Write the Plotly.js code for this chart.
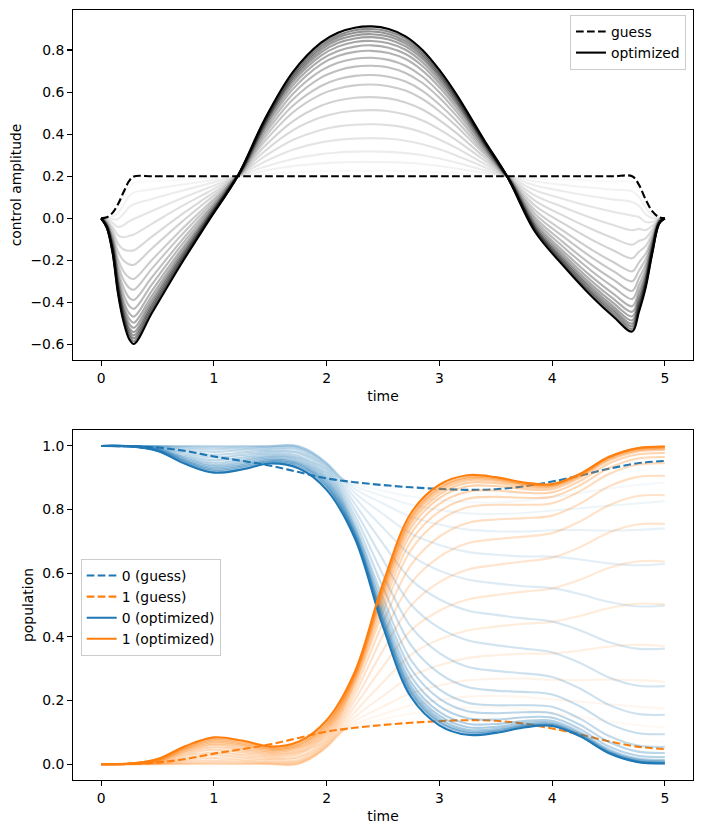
<!DOCTYPE html>
<html><head><meta charset="utf-8">
<script src="https://cdn.plot.ly/plotly-3.0.1.min.js"></script>
<style>html,body{margin:0;padding:0;background:#fff}#chart{width:702px;height:833px}</style>
</head><body><div id="chart"></div>
<script>
// ---------- top panel: control amplitude ----------
const tCtrl = [0, 0.05, 0.1, 0.15, 0.2, 0.25, 0.29, 0.45, 0.7, 0.95, 1.21, 1.45, 1.7, 1.95, 2.1, 2.25, 2.4, 2.55, 2.7, 2.85, 3.0, 3.15, 3.4, 3.6, 3.85, 4.1, 4.35, 4.55, 4.71, 4.77, 4.83, 4.89, 4.95, 5.0];
const ctrlGuess = [0, 0.005, 0.026, 0.068, 0.126, 0.179, 0.199, 0.2, 0.2, 0.2, 0.2, 0.2, 0.2, 0.2, 0.2, 0.2, 0.2, 0.2, 0.2, 0.2, 0.2, 0.2, 0.2, 0.2, 0.2, 0.2, 0.2, 0.2, 0.2, 0.16, 0.09, 0.033, 0.005, 0];
const ctrl1 = [0, 0.003, 0.019, 0.052, 0.103, 0.151, 0.17, 0.176, 0.184, 0.192, 0.2, 0.21, 0.218, 0.224, 0.225, 0.226, 0.226, 0.226, 0.225, 0.222, 0.219, 0.214, 0.206, 0.2, 0.19, 0.184, 0.179, 0.175, 0.173, 0.138, 0.074, 0.026, 0.004, 0];
const ctrl2 = [0, 0, 0.008, 0.027, 0.066, 0.107, 0.123, 0.138, 0.159, 0.179, 0.2, 0.226, 0.248, 0.261, 0.266, 0.268, 0.268, 0.267, 0.264, 0.258, 0.249, 0.237, 0.216, 0.2, 0.175, 0.159, 0.145, 0.136, 0.129, 0.102, 0.05, 0.014, 0.002, 0];
const ctrl3 = [0, -0.003, -0.005, -0.003, 0.023, 0.054, 0.067, 0.092, 0.129, 0.164, 0.2, 0.245, 0.282, 0.305, 0.313, 0.317, 0.318, 0.316, 0.31, 0.3, 0.284, 0.265, 0.228, 0.2, 0.156, 0.129, 0.105, 0.089, 0.078, 0.06, 0.02, 0, 0, 0];
const ctrl4 = [0, -0.008, -0.021, -0.041, -0.032, -0.013, -0.003, 0.035, 0.092, 0.145, 0.2, 0.269, 0.326, 0.361, 0.373, 0.379, 0.381, 0.378, 0.369, 0.352, 0.328, 0.299, 0.243, 0.2, 0.133, 0.092, 0.055, 0.03, 0.013, 0.006, -0.017, -0.017, -0.003, 0];
const ctrl5 = [0, -0.012, -0.039, -0.081, -0.09, -0.083, -0.077, -0.026, 0.053, 0.125, 0.2, 0.294, 0.372, 0.42, 0.437, 0.445, 0.447, 0.443, 0.431, 0.408, 0.375, 0.335, 0.259, 0.2, 0.108, 0.053, 0.002, -0.033, -0.056, -0.05, -0.056, -0.035, -0.005, 0];
const ctrl6 = [0, -0.017, -0.056, -0.121, -0.148, -0.154, -0.152, -0.087, 0.013, 0.105, 0.2, 0.319, 0.418, 0.48, 0.501, 0.511, 0.514, 0.509, 0.493, 0.465, 0.423, 0.372, 0.275, 0.2, 0.083, 0.013, -0.051, -0.096, -0.125, -0.107, -0.095, -0.053, -0.008, 0];
const ctrl7 = [0, -0.021, -0.072, -0.158, -0.202, -0.219, -0.221, -0.143, -0.024, 0.087, 0.2, 0.343, 0.461, 0.535, 0.56, 0.573, 0.576, 0.57, 0.551, 0.517, 0.467, 0.406, 0.29, 0.2, 0.06, -0.024, -0.101, -0.154, -0.19, -0.159, -0.132, -0.071, -0.011, 0];
const ctrl8 = [0, -0.026, -0.088, -0.194, -0.254, -0.282, -0.288, -0.198, -0.06, 0.068, 0.2, 0.365, 0.503, 0.589, 0.617, 0.632, 0.636, 0.628, 0.607, 0.567, 0.509, 0.439, 0.304, 0.2, 0.038, -0.06, -0.149, -0.21, -0.252, -0.21, -0.167, -0.087, -0.013, 0];
const ctrl9 = [0, -0.029, -0.1, -0.221, -0.294, -0.331, -0.339, -0.239, -0.087, 0.055, 0.2, 0.383, 0.535, 0.629, 0.661, 0.677, 0.681, 0.673, 0.65, 0.606, 0.541, 0.464, 0.315, 0.2, 0.021, -0.087, -0.185, -0.253, -0.299, -0.249, -0.194, -0.1, -0.015, 0];
const ctrl10 = [0, -0.032, -0.111, -0.248, -0.332, -0.378, -0.388, -0.28, -0.114, 0.041, 0.2, 0.399, 0.565, 0.669, 0.703, 0.721, 0.725, 0.717, 0.691, 0.643, 0.573, 0.488, 0.325, 0.2, 0.004, -0.114, -0.221, -0.294, -0.345, -0.286, -0.22, -0.112, -0.017, 0];
const ctrl11 = [0, -0.035, -0.121, -0.27, -0.365, -0.417, -0.43, -0.314, -0.136, 0.03, 0.2, 0.413, 0.591, 0.702, 0.739, 0.758, 0.763, 0.753, 0.725, 0.674, 0.599, 0.508, 0.334, 0.2, -0.009, -0.136, -0.25, -0.329, -0.383, -0.318, -0.242, -0.122, -0.019, 0];
const ctrl12 = [0, -0.037, -0.13, -0.29, -0.394, -0.452, -0.467, -0.344, -0.156, 0.02, 0.2, 0.426, 0.614, 0.732, 0.771, 0.791, 0.796, 0.786, 0.757, 0.702, 0.623, 0.526, 0.342, 0.2, -0.022, -0.156, -0.277, -0.361, -0.418, -0.346, -0.262, -0.131, -0.02, 0];
const ctrl13 = [0, -0.039, -0.136, -0.306, -0.416, -0.479, -0.496, -0.368, -0.171, 0.012, 0.2, 0.436, 0.632, 0.754, 0.795, 0.816, 0.822, 0.811, 0.781, 0.724, 0.641, 0.541, 0.348, 0.2, -0.031, -0.171, -0.298, -0.385, -0.444, -0.368, -0.277, -0.138, -0.021, 0];
const ctrl14 = [0, -0.04, -0.142, -0.319, -0.435, -0.502, -0.52, -0.387, -0.184, 0.006, 0.2, 0.444, 0.647, 0.773, 0.816, 0.838, 0.843, 0.832, 0.801, 0.742, 0.656, 0.552, 0.354, 0.2, -0.039, -0.184, -0.315, -0.405, -0.466, -0.386, -0.289, -0.144, -0.022, 0];
const ctrl15 = [0, -0.041, -0.147, -0.329, -0.45, -0.521, -0.54, -0.403, -0.194, 0, 0.2, 0.451, 0.659, 0.789, 0.833, 0.855, 0.861, 0.85, 0.817, 0.757, 0.669, 0.562, 0.358, 0.2, -0.046, -0.194, -0.329, -0.422, -0.485, -0.401, -0.3, -0.149, -0.023, 0];
const ctrl16 = [0, -0.042, -0.15, -0.338, -0.463, -0.536, -0.556, -0.416, -0.203, -0.004, 0.2, 0.456, 0.669, 0.802, 0.847, 0.869, 0.875, 0.864, 0.83, 0.769, 0.679, 0.57, 0.361, 0.2, -0.051, -0.203, -0.34, -0.435, -0.5, -0.414, -0.308, -0.153, -0.023, 0];
const ctrl17 = [0, -0.043, -0.154, -0.345, -0.474, -0.549, -0.57, -0.428, -0.211, -0.008, 0.2, 0.461, 0.678, 0.813, 0.859, 0.882, 0.888, 0.876, 0.842, 0.78, 0.688, 0.577, 0.364, 0.2, -0.056, -0.211, -0.351, -0.447, -0.513, -0.424, -0.316, -0.156, -0.024, 0];
const ctrl18 = [0, -0.044, -0.157, -0.353, -0.484, -0.562, -0.584, -0.439, -0.218, -0.011, 0.2, 0.465, 0.687, 0.824, 0.87, 0.894, 0.9, 0.888, 0.854, 0.79, 0.696, 0.583, 0.367, 0.2, -0.06, -0.218, -0.36, -0.459, -0.525, -0.435, -0.323, -0.16, -0.025, 0];
const ctrlOpt = [0, -0.045, -0.16, -0.36, -0.495, -0.575, -0.597, -0.45, -0.225, -0.015, 0.2, 0.47, 0.695, 0.835, 0.882, 0.906, 0.912, 0.9, 0.865, 0.8, 0.705, 0.59, 0.37, 0.2, -0.065, -0.225, -0.37, -0.47, -0.538, -0.445, -0.33, -0.163, -0.025, 0];

// ---------- bottom panel: populations ----------
const tPop = [0, 0.25, 0.5, 0.75, 1.0, 1.25, 1.5, 1.75, 2.0, 2.25, 2.5, 2.75, 3.0, 3.25, 3.5, 3.75, 4.0, 4.25, 4.5, 4.75, 5.0];
const pop0Guess = [1, 0.999, 0.995, 0.984, 0.967, 0.953, 0.938, 0.918, 0.898, 0.886, 0.877, 0.87, 0.865, 0.862, 0.864, 0.873, 0.888, 0.907, 0.928, 0.945, 0.953];
const pop1Guess = [0, 0.001, 0.005, 0.016, 0.033, 0.047, 0.062, 0.082, 0.102, 0.114, 0.123, 0.13, 0.135, 0.138, 0.136, 0.127, 0.112, 0.093, 0.072, 0.055, 0.047];
const pop0_1 = [1, 0.999, 0.996, 0.987, 0.973, 0.961, 0.947, 0.929, 0.906, 0.884, 0.871, 0.86, 0.853, 0.849, 0.85, 0.858, 0.872, 0.889, 0.907, 0.922, 0.93];
const pop0_2 = [1, 0.999, 0.997, 0.992, 0.981, 0.971, 0.959, 0.945, 0.917, 0.88, 0.859, 0.841, 0.83, 0.823, 0.822, 0.828, 0.839, 0.852, 0.866, 0.877, 0.885];
const pop0_3 = [1, 0.999, 0.999, 0.996, 0.989, 0.982, 0.972, 0.962, 0.928, 0.874, 0.843, 0.815, 0.799, 0.788, 0.786, 0.789, 0.797, 0.804, 0.812, 0.819, 0.826];
const pop0_4 = [1, 1, 1, 0.999, 0.996, 0.991, 0.984, 0.979, 0.938, 0.865, 0.819, 0.777, 0.753, 0.737, 0.732, 0.731, 0.735, 0.736, 0.734, 0.736, 0.741];
const pop0_5 = [1, 1, 1, 1, 1, 0.998, 0.993, 0.991, 0.945, 0.853, 0.786, 0.724, 0.689, 0.667, 0.658, 0.653, 0.652, 0.643, 0.631, 0.625, 0.629];
const pop0_6 = [1, 1, 1, 0.999, 0.999, 1, 0.999, 0.998, 0.947, 0.837, 0.743, 0.656, 0.608, 0.58, 0.568, 0.559, 0.553, 0.534, 0.51, 0.496, 0.498];
const pop0_7 = [1, 1, 0.999, 0.996, 0.995, 0.998, 1, 1, 0.945, 0.818, 0.693, 0.579, 0.518, 0.483, 0.469, 0.458, 0.448, 0.42, 0.384, 0.363, 0.363];
const pop0_8 = [1, 1, 0.998, 0.991, 0.989, 0.993, 0.998, 0.997, 0.94, 0.799, 0.642, 0.501, 0.428, 0.389, 0.374, 0.363, 0.351, 0.318, 0.273, 0.247, 0.245];
const pop0_9 = [1, 0.999, 0.996, 0.986, 0.981, 0.987, 0.994, 0.993, 0.933, 0.781, 0.595, 0.431, 0.349, 0.306, 0.293, 0.285, 0.274, 0.237, 0.187, 0.158, 0.155];
const pop0_10 = [1, 0.999, 0.994, 0.98, 0.972, 0.979, 0.988, 0.986, 0.925, 0.765, 0.555, 0.373, 0.285, 0.242, 0.231, 0.227, 0.219, 0.181, 0.128, 0.098, 0.094];
const pop0_11 = [1, 0.999, 0.993, 0.974, 0.964, 0.971, 0.982, 0.978, 0.916, 0.751, 0.522, 0.326, 0.235, 0.193, 0.185, 0.185, 0.18, 0.142, 0.089, 0.059, 0.054];
const pop0_12 = [1, 0.999, 0.991, 0.968, 0.955, 0.963, 0.976, 0.969, 0.907, 0.743, 0.502, 0.298, 0.206, 0.166, 0.16, 0.163, 0.16, 0.123, 0.07, 0.04, 0.035];
const pop0_13 = [1, 0.999, 0.99, 0.963, 0.947, 0.956, 0.97, 0.962, 0.899, 0.736, 0.485, 0.275, 0.182, 0.144, 0.14, 0.147, 0.146, 0.11, 0.056, 0.027, 0.022];
const pop0_14 = [1, 0.999, 0.989, 0.959, 0.94, 0.95, 0.965, 0.955, 0.892, 0.729, 0.471, 0.257, 0.164, 0.127, 0.126, 0.135, 0.136, 0.1, 0.047, 0.018, 0.013];
const pop0_15 = [1, 0.999, 0.987, 0.955, 0.935, 0.944, 0.96, 0.949, 0.886, 0.725, 0.461, 0.244, 0.152, 0.116, 0.117, 0.128, 0.13, 0.095, 0.042, 0.014, 0.009];
const pop0_16 = [1, 0.999, 0.987, 0.952, 0.93, 0.939, 0.956, 0.944, 0.88, 0.721, 0.453, 0.234, 0.143, 0.108, 0.11, 0.123, 0.126, 0.092, 0.039, 0.011, 0.006];
const pop0_17 = [1, 0.999, 0.986, 0.949, 0.925, 0.935, 0.952, 0.94, 0.875, 0.718, 0.447, 0.226, 0.135, 0.102, 0.105, 0.12, 0.123, 0.09, 0.037, 0.009, 0.004];
const pop0_18 = [1, 0.999, 0.985, 0.946, 0.921, 0.93, 0.949, 0.935, 0.87, 0.716, 0.442, 0.22, 0.13, 0.098, 0.102, 0.118, 0.122, 0.088, 0.036, 0.008, 0.003];
const pop0Opt = [1, 0.999, 0.984, 0.943, 0.916, 0.926, 0.945, 0.93, 0.862, 0.71, 0.432, 0.21, 0.122, 0.092, 0.098, 0.115, 0.12, 0.087, 0.035, 0.007, 0.002];

const pop1_1 = [0, 0.001, 0.004, 0.013, 0.027, 0.039, 0.053, 0.071, 0.094, 0.116, 0.129, 0.14, 0.147, 0.151, 0.15, 0.142, 0.128, 0.111, 0.093, 0.078, 0.07];
const pop1_2 = [0, 0.001, 0.003, 0.008, 0.019, 0.029, 0.041, 0.055, 0.083, 0.12, 0.141, 0.159, 0.17, 0.177, 0.178, 0.172, 0.161, 0.148, 0.134, 0.123, 0.115];
const pop1_3 = [0, 0.001, 0.001, 0.004, 0.011, 0.018, 0.028, 0.038, 0.072, 0.126, 0.157, 0.185, 0.201, 0.212, 0.214, 0.211, 0.203, 0.196, 0.188, 0.181, 0.174];
const pop1_4 = [0, 0, 0, 0.001, 0.004, 0.009, 0.016, 0.021, 0.062, 0.135, 0.181, 0.223, 0.247, 0.263, 0.268, 0.269, 0.265, 0.264, 0.266, 0.264, 0.259];
const pop1_5 = [0, 0, 0, 0, 0, 0.002, 0.007, 0.009, 0.055, 0.147, 0.214, 0.276, 0.311, 0.333, 0.342, 0.347, 0.348, 0.357, 0.369, 0.375, 0.371];
const pop1_6 = [0, 0, 0, 0.001, 0.001, 0, 0.001, 0.002, 0.053, 0.163, 0.257, 0.344, 0.392, 0.42, 0.432, 0.441, 0.447, 0.466, 0.49, 0.504, 0.502];
const pop1_7 = [0, 0, 0.001, 0.004, 0.005, 0.002, 0, 0, 0.055, 0.182, 0.307, 0.421, 0.482, 0.517, 0.531, 0.542, 0.552, 0.58, 0.616, 0.637, 0.637];
const pop1_8 = [0, 0, 0.002, 0.009, 0.011, 0.007, 0.002, 0.003, 0.06, 0.201, 0.358, 0.499, 0.572, 0.611, 0.626, 0.637, 0.649, 0.682, 0.727, 0.753, 0.755];
const pop1_9 = [0, 0.001, 0.004, 0.014, 0.019, 0.013, 0.006, 0.007, 0.067, 0.219, 0.405, 0.569, 0.651, 0.694, 0.707, 0.715, 0.726, 0.763, 0.813, 0.842, 0.845];
const pop1_10 = [0, 0.001, 0.006, 0.02, 0.028, 0.021, 0.012, 0.014, 0.075, 0.235, 0.445, 0.627, 0.715, 0.758, 0.769, 0.773, 0.781, 0.819, 0.872, 0.902, 0.906];
const pop1_11 = [0, 0.001, 0.007, 0.026, 0.036, 0.029, 0.018, 0.022, 0.084, 0.249, 0.478, 0.674, 0.765, 0.807, 0.815, 0.815, 0.82, 0.858, 0.911, 0.941, 0.946];
const pop1_12 = [0, 0.001, 0.009, 0.032, 0.045, 0.037, 0.024, 0.031, 0.093, 0.257, 0.498, 0.702, 0.794, 0.834, 0.84, 0.837, 0.84, 0.877, 0.93, 0.96, 0.965];
const pop1_13 = [0, 0.001, 0.01, 0.037, 0.053, 0.044, 0.03, 0.038, 0.101, 0.264, 0.515, 0.725, 0.818, 0.856, 0.86, 0.853, 0.854, 0.89, 0.944, 0.973, 0.978];
const pop1_14 = [0, 0.001, 0.011, 0.041, 0.06, 0.05, 0.035, 0.045, 0.108, 0.271, 0.529, 0.743, 0.836, 0.873, 0.874, 0.865, 0.864, 0.9, 0.953, 0.982, 0.987];
const pop1_15 = [0, 0.001, 0.013, 0.045, 0.065, 0.056, 0.04, 0.051, 0.114, 0.275, 0.539, 0.756, 0.848, 0.884, 0.883, 0.872, 0.87, 0.905, 0.958, 0.986, 0.991];
const pop1_16 = [0, 0.001, 0.013, 0.048, 0.07, 0.061, 0.044, 0.056, 0.12, 0.279, 0.547, 0.766, 0.857, 0.892, 0.89, 0.877, 0.874, 0.908, 0.961, 0.989, 0.994];
const pop1_17 = [0, 0.001, 0.014, 0.051, 0.075, 0.065, 0.048, 0.06, 0.125, 0.282, 0.553, 0.774, 0.865, 0.898, 0.895, 0.88, 0.877, 0.91, 0.963, 0.991, 0.996];
const pop1_18 = [0, 0.001, 0.015, 0.054, 0.079, 0.07, 0.051, 0.065, 0.13, 0.284, 0.558, 0.78, 0.87, 0.902, 0.898, 0.882, 0.878, 0.912, 0.964, 0.992, 0.997];
const pop1Opt = [0, 0.001, 0.016, 0.057, 0.084, 0.074, 0.055, 0.07, 0.138, 0.29, 0.568, 0.79, 0.878, 0.908, 0.902, 0.885, 0.88, 0.913, 0.965, 0.993, 0.998];

const nIters = 20;
const ctrlSteps = [ctrl1, ctrl2, ctrl3, ctrl4, ctrl5, ctrl6, ctrl7, ctrl8, ctrl9, ctrl10, ctrl11, ctrl12, ctrl13, ctrl14, ctrl15, ctrl16, ctrl17, ctrl18];
const pop0Steps = [pop0_1, pop0_2, pop0_3, pop0_4, pop0_5, pop0_6, pop0_7, pop0_8, pop0_9, pop0_10, pop0_11, pop0_12, pop0_13, pop0_14, pop0_15, pop0_16, pop0_17, pop0_18];
const pop1Steps = [pop1_1, pop1_2, pop1_3, pop1_4, pop1_5, pop1_6, pop1_7, pop1_8, pop1_9, pop1_10, pop1_11, pop1_12, pop1_13, pop1_14, pop1_15, pop1_16, pop1_17, pop1_18];

const FONT = 'DejaVu Sans, sans-serif';
const LW = 2.1;
const DASH = '7.7px,3.3px';
const SH = 'spline';
const traces = [];

traces.push({x: tCtrl, y: ctrlGuess, mode: 'lines', name: 'guess', legend: 'legend',
  line: {color: '#000000', width: LW, dash: DASH, shape: SH}, xaxis: 'x', yaxis: 'y'});
ctrlSteps.forEach((c, i) => {
  const a = 0.5 * (i + 1) / nIters;
  traces.push({x: tCtrl, y: c, mode: 'lines', showlegend: false, hoverinfo: 'skip',
    line: {color: `rgba(0,0,0,${a})`, width: LW, shape: SH}, xaxis: 'x', yaxis: 'y'});
});
traces.push({x: tCtrl, y: ctrlOpt, mode: 'lines', name: 'optimized', legend: 'legend',
  line: {color: '#000000', width: LW, shape: SH}, xaxis: 'x', yaxis: 'y'});

traces.push({x: tPop, y: pop0Guess, mode: 'lines', name: '0 (guess)', legend: 'legend2',
  line: {color: '#1f77b4', width: LW, dash: DASH, shape: SH}, xaxis: 'x2', yaxis: 'y2'});
traces.push({x: tPop, y: pop1Guess, mode: 'lines', name: '1 (guess)', legend: 'legend2',
  line: {color: '#ff7f0e', width: LW, dash: DASH, shape: SH}, xaxis: 'x2', yaxis: 'y2'});
pop0Steps.forEach((p0, i) => {
  const a = 0.5 * (i + 1) / nIters;
  traces.push({x: tPop, y: p0, mode: 'lines', showlegend: false, hoverinfo: 'skip',
    line: {color: `rgba(31,119,180,${a})`, width: LW, shape: SH}, xaxis: 'x2', yaxis: 'y2'});
  traces.push({x: tPop, y: pop1Steps[i], mode: 'lines', showlegend: false, hoverinfo: 'skip',
    line: {color: `rgba(255,127,14,${a})`, width: LW, shape: SH}, xaxis: 'x2', yaxis: 'y2'});
});
traces.push({x: tPop, y: pop0Opt, mode: 'lines', name: '0 (optimized)', legend: 'legend2',
  line: {color: '#1f77b4', width: LW, shape: SH}, xaxis: 'x2', yaxis: 'y2'});
traces.push({x: tPop, y: pop1Opt, mode: 'lines', name: '1 (optimized)', legend: 'legend2',
  line: {color: '#ff7f0e', width: LW, shape: SH}, xaxis: 'x2', yaxis: 'y2'});

const ax = {
  showline: true, linecolor: '#000', linewidth: 1.1, mirror: true,
  ticks: 'outside', ticklen: 4.9, tickwidth: 1.1, tickcolor: '#000',
  showgrid: false, zeroline: false,
  tickfont: {family: FONT, size: 13.9, color: '#000'}
};
const xTicks = [0, 1, 2, 3, 4, 5];
const yTicksCtrl = [-0.6, -0.4, -0.2, 0, 0.2, 0.4, 0.6, 0.8];
const yTicksPop = [0, 0.2, 0.4, 0.6, 0.8, 1.0];
const legendStyle = {bgcolor: 'rgba(255,255,255,0.8)', bordercolor: '#cccccc', borderwidth: 1,
  font: {family: FONT, size: 13.9, color: '#000'}, itemwidth: 30, tracegroupgap: 0};

const layout = {
  width: 702, height: 833,
  margin: {l: 73, r: 9, t: 10, b: 53},
  paper_bgcolor: '#fff', plot_bgcolor: '#fff',
  font: {family: FONT, size: 13.9, color: '#000'},
  showlegend: true,
  xaxis: Object.assign({}, ax, {domain: [0, 1], anchor: 'y', range: [-0.25, 5.25], tickvals: xTicks,
    title: {text: 'time', font: {family: FONT, size: 13.9}, standoff: 6}}),
  yaxis: Object.assign({}, ax, {domain: [0.5455, 1], anchor: 'x', range: [-0.673, 0.99], tickvals: yTicksCtrl, tickformat: '.1f',
    title: {text: 'control amplitude', font: {family: FONT, size: 13.9}, standoff: 5}}),
  xaxis2: Object.assign({}, ax, {domain: [0, 1], anchor: 'y2', range: [-0.25, 5.25], tickvals: xTicks,
    title: {text: 'time', font: {family: FONT, size: 13.9}, standoff: 6}}),
  yaxis2: Object.assign({}, ax, {domain: [0, 0.4545], anchor: 'x2', range: [-0.05, 1.05], tickvals: yTicksPop, tickformat: '.1f',
    title: {text: 'population', font: {family: FONT, size: 13.9}, standoff: 5}}),
  legend: Object.assign({}, legendStyle, {x: 0.9887, xanchor: 'right', y: 0.9935, yanchor: 'top'}),
  legend2: Object.assign({}, legendStyle, {x: 0.0124, xanchor: 'left', y: 0.287, yanchor: 'top'})
};

Plotly.newPlot('chart', traces, layout, {staticPlot: true, displayModeBar: false});
</script>
</body></html>
